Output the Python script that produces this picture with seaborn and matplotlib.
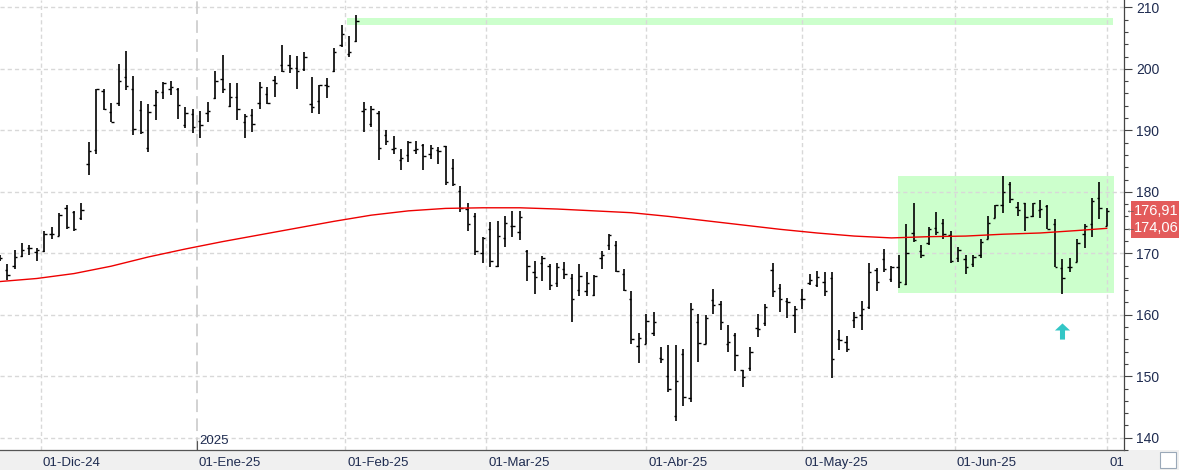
import numpy as np
import pandas as pd
import matplotlib
matplotlib.use("Agg")
import matplotlib.pyplot as plt
import seaborn as sns
from matplotlib.patches import Rectangle
from matplotlib.path import Path
from matplotlib.transforms import Bbox, TransformedBbox

# trading days (US calendar) shown on the chart
holidays = ["2024-11-28", "2024-12-25", "2025-01-01", "2025-01-09", "2025-01-20",
            "2025-02-17", "2025-04-18", "2025-05-26", "2025-06-19"]
days = pd.bdate_range("2024-11-21", "2025-07-01")
days = days[~days.isin(pd.to_datetime(holidays))]

opens = [169.0, 167.3, 168.0, 169.5, 170.8, 170.2, 170.4, 173.2, 172.8, 177.4,
         176.7, 175.8, 184.5, 186.8, 196.4, 192.9, 194.4, 198.6, 196.8, 193.3,
         187.2, 194.1, 196.2, 196.8, 196.7, 190.8, 192.6, 191.5, 192.8, 195.3,
         198.3, 193.9, 195.4, 191.4, 192.5, 194.5, 195.9, 198.2, 200.7, 200.6,
         200.1, 200.0, 194.3, 194.8, 197.3, 199.7, 203.9, 202.4, 204.6, 193.2,
         191.1, 192.8, 189.3, 187.0, 185.1, 186.0, 186.8, 187.6, 186.2, 186.8,
         187.4, 183.9, 180.1, 177.2, 176.0, 170.1, 173.9, 168.0, 172.5, 174.4,
         173.5, 170.4, 166.9, 168.5, 168.0, 165.2, 167.4, 166.0, 164.0, 163.8,
         163.2, 169.3, 171.3, 171.4, 166.7, 162.5, 154.9, 155.3, 157.0, 153.0,
         150.1, 143.5, 153.6, 146.5, 158.9, 155.3, 162.4, 161.7, 155.3, 156.7,
         151.0, 151.3, 157.9, 158.6, 167.2, 164.3, 162.2, 159.9, 162.6, 165.1,
         164.8, 165.4, 166.0, 156.0, 155.5, 159.2, 159.9, 161.3, 167.2, 169.0,
         165.8, 167.8, 165.0, 173.3, 170.3, 171.6, 174.1, 175.0, 173.0, 169.2,
         169.0, 168.3, 169.8, 172.4, 175.8, 177.9, 181.3, 177.5, 178.2, 176.0,
         177.1, 177.7, 174.8, 167.6, 167.8, 168.6, 173.1, 174.7, 179.0, 174.5]
highs = [169.8, 168.3, 170.5, 171.6, 171.3, 170.9, 173.7, 174.3, 176.5, 177.8,
         176.8, 178.1, 188.1, 196.8, 196.7, 194.4, 200.8, 202.9, 198.8, 194.7,
         194.3, 196.6, 197.8, 198.1, 196.9, 193.8, 193.4, 193.1, 194.6, 199.7,
         202.3, 197.7, 197.7, 192.6, 193.4, 197.9, 197.0, 198.9, 203.9, 202.3,
         202.1, 202.7, 198.7, 197.4, 198.5, 203.4, 207.2, 205.4, 208.8, 194.6,
         194.0, 193.2, 190.1, 189.0, 186.9, 188.2, 188.2, 187.8, 187.6, 187.3,
         187.5, 185.3, 180.9, 178.2, 176.6, 172.6, 175.1, 175.3, 176.0, 176.8,
         176.9, 170.5, 168.7, 169.6, 168.2, 168.4, 168.6, 166.6, 168.2, 167.0,
         166.5, 170.3, 173.1, 172.0, 167.5, 163.9, 157.1, 160.1, 160.4, 154.8,
         155.0, 155.1, 154.5, 161.9, 160.1, 159.9, 164.2, 162.3, 158.3, 157.1,
         151.0, 154.7, 160.1, 161.7, 168.4, 165.0, 162.7, 161.5, 164.2, 166.6,
         167.1, 166.9, 167.0, 157.5, 156.5, 160.5, 162.2, 168.4, 167.6, 170.7,
         168.0, 169.8, 174.7, 178.2, 171.3, 174.3, 176.7, 175.5, 173.6, 171.1,
         169.8, 169.7, 172.4, 176.0, 177.9, 182.5, 181.6, 178.3, 178.2, 178.2,
         178.7, 177.9, 175.5, 169.1, 169.3, 172.4, 174.7, 179.0, 181.6, 177.3]
lows = [168.8, 165.7, 167.5, 169.4, 169.8, 168.7, 170.2, 172.4, 172.8, 174.0,
        173.6, 175.4, 182.7, 186.2, 193.3, 191.3, 194.0, 196.6, 189.3, 189.4,
        186.4, 191.7, 195.1, 195.8, 191.9, 190.3, 189.6, 188.8, 191.3, 195.1,
        196.1, 193.8, 191.6, 188.8, 189.8, 193.5, 194.3, 195.4, 199.5, 199.3,
        196.8, 199.7, 192.8, 192.6, 195.2, 199.5, 203.6, 201.9, 204.3, 189.8,
        190.5, 185.1, 187.6, 186.1, 183.6, 184.8, 186.1, 183.5, 185.4, 184.6,
        181.1, 180.9, 176.7, 173.6, 169.8, 168.5, 167.7, 167.7, 171.0, 172.6,
        172.2, 165.5, 163.3, 165.5, 164.1, 164.5, 165.8, 158.9, 163.1, 163.1,
        163.1, 167.4, 170.5, 166.9, 163.9, 155.2, 152.2, 155.3, 156.6, 152.2,
        147.5, 142.7, 145.2, 145.8, 152.3, 155.3, 160.1, 157.6, 153.9, 150.9,
        148.3, 150.9, 156.3, 158.1, 162.9, 160.4, 159.4, 157.1, 161.0, 164.9,
        164.5, 163.1, 149.7, 154.2, 153.9, 157.9, 157.6, 161.0, 163.9, 167.0,
        165.4, 164.3, 164.9, 171.8, 169.3, 171.3, 172.9, 172.4, 168.4, 168.6,
        166.7, 167.8, 169.3, 172.3, 175.8, 176.6, 178.1, 176.0, 173.6, 175.9,
        175.8, 173.9, 167.8, 163.4, 167.0, 168.6, 170.8, 172.6, 175.6, 174.5]
closes = [169.3, 166.5, 169.4, 170.6, 170.9, 170.6, 173.1, 173.1, 176.3, 174.3,
          173.9, 177.0, 186.6, 196.7, 193.5, 191.4, 198.1, 197.2, 190.2, 189.7,
          193.0, 196.3, 197.7, 197.1, 194.1, 192.8, 190.6, 190.8, 193.2, 198.1,
          196.7, 195.4, 193.4, 192.4, 191.0, 197.0, 194.5, 197.7, 199.6, 200.1,
          199.7, 201.9, 193.8, 197.3, 197.2, 202.7, 205.6, 202.7, 207.8, 193.4,
          193.5, 187.1, 188.2, 187.1, 185.5, 188.1, 187.0, 185.9, 187.1, 186.6,
          181.6, 181.2, 177.4, 174.8, 170.3, 172.5, 168.7, 172.8, 175.0, 174.4,
          175.9, 167.9, 166.1, 169.2, 164.8, 167.7, 166.7, 162.6, 166.3, 165.1,
          166.3, 169.8, 172.9, 167.1, 164.0, 156.0, 156.2, 159.0, 158.8, 152.8,
          148.0, 149.2, 146.6, 160.9, 155.4, 159.5, 161.6, 158.8, 155.6, 153.5,
          149.8, 153.9, 157.7, 161.3, 163.9, 162.5, 162.0, 160.9, 162.6, 165.6,
          166.2, 163.9, 152.8, 155.9, 154.4, 159.6, 160.9, 166.9, 165.4, 167.4,
          167.8, 165.4, 170.1, 172.1, 169.7, 174.0, 173.5, 173.1, 168.8, 170.5,
          167.8, 169.4, 171.8, 175.0, 177.8, 180.0, 178.8, 177.1, 175.9, 178.1,
          177.2, 174.0, 167.8, 165.9, 167.8, 171.6, 174.4, 178.5, 177.4, 176.91]

# moving average (bar index -> value)
ma_idx = [0, 5, 10, 15, 20, 25, 30, 35, 40, 45, 50, 55, 60, 65, 70, 75, 80, 85,
          90, 95, 100, 105, 110, 115, 120, 125, 130, 135, 140, 145, 149]
ma_vals = [165.4, 165.9, 166.7, 167.9, 169.4, 170.7, 171.9, 173.0, 174.1, 175.2,
           176.2, 176.9, 177.3, 177.4, 177.4, 177.2, 176.9, 176.6, 176.0, 175.3,
           174.6, 173.9, 173.3, 172.8, 172.5, 172.7, 172.8, 173.1, 173.3, 173.7, 174.06]

month_starts = ["2024-12-01", "2025-01-01", "2025-02-01", "2025-03-01",
                "2025-04-01", "2025-05-01", "2025-06-01", "2025-07-01"]
month_labels = ["01-Dic-24", "01-Ene-25", "01-Feb-25", "01-Mar-25",
                "01-Abr-25", "01-May-25", "01-Jun-25", "01-Jul-25"]

resist_low, resist_high, resist_start = 207.2, 208.2, "2025-02-03"
box_low, box_high, box_start = 163.6, 182.6, "2025-05-20"
signal_day, signal_price = "2025-06-23", 157.3
last_labels = [(176.91, "176,91"), (174.06, "174,06")]

sns.set_theme(style="white")
plt.rcParams["font.family"] = ["Liberation Sans", "DejaVu Sans"]

df = pd.DataFrame({"date": days, "o": opens, "h": highs, "l": lows, "c": closes})
df["i"] = np.arange(len(df))
n = len(df)

def pos_of(d):
    d = pd.Timestamp(d)
    k = days.searchsorted(d)
    return float(k) if (k < n and days[k] == d) else k - 0.5

W, H = 1179, 474
fig = plt.figure(figsize=(W / 100, H / 100), dpi=100)
fig.patches.append(Rectangle((0, 4 / H), 1, 20 / H, transform=fig.transFigure,
                             fc="#f0f0f0", ec="none", zorder=-1))
ax = fig.add_axes([0, 24 / H, 1124 / W, 450 / H])
ax.set_facecolor("white")

x_end = n + 0.05
ax.add_patch(Rectangle((pos_of(resist_start) - 0.2, resist_low),
                       x_end - pos_of(resist_start), resist_high - resist_low,
                       fc="#ccffcc", ec="none", zorder=0.5))
ax.add_patch(Rectangle((pos_of(box_start) - 0.1, box_low),
                       x_end - pos_of(box_start), box_high - box_low,
                       fc="#ccffcc", ec="none", zorder=0.5))

# grid
for v in range(140, 211, 10):
    ax.axhline(v, color="#d8d8d8", lw=1.0, ls=(0, (3, 2.2)), zorder=1)
tick_pos = [pos_of(d) for d in month_starts]
for p, lbl in zip(tick_pos, month_labels):
    if lbl == "01-Ene-25":
        ax.axvline(p, color="#cfcfcf", lw=1.3, ls=(0, (7, 3.5)), zorder=1)
    else:
        ax.axvline(p, color="#d8d8d8", lw=1.0, ls=(0, (3, 2.2)), zorder=1)

# OHLC bars
ax.vlines(df["i"], df["l"], df["h"], color="black", lw=1.2, zorder=3)
ax.hlines(df["o"], df["i"] - 0.32, df["i"], color="black", lw=1.0, zorder=3)
ax.hlines(df["c"], df["i"], df["i"] + 0.32, color="black", lw=1.0, zorder=3)

sns.lineplot(x=ma_idx, y=ma_vals, color="#ee0000", lw=1.0, ax=ax, zorder=4)

# buy signal arrow (custom marker)
arrow = Path([(-7.5, 1), (0, 8), (7.5, 1), (2.5, 1), (2.5, -8), (-2.5, -8),
              (-2.5, 1), (-7.5, 1)], closed=True)
ax.scatter([pos_of(signal_day)], [signal_price], marker=arrow, s=135,
           color="#33c6c6", linewidths=0, zorder=5)

ax.set_xlim(0.04, 151.3)
ax.set_ylim(138.2, 211.2)

for s in ["left", "top"]:
    ax.spines[s].set_visible(False)
ax.spines["right"].set_color("#444444")
ax.spines["bottom"].set_color("#555555")
ax.spines["right"].set_linewidth(0.9)
ax.spines["bottom"].set_linewidth(0.9)

ax.yaxis.tick_right()
ax.set_yticks(range(140, 211, 10))
ax.set_yticks(np.arange(138, 212, 2), minor=True)
ax.tick_params(axis="y", which="major", length=5.8, width=0.8, color="#444444",
               pad=3, labelsize=10, labelcolor="#1e2b50")
ax.tick_params(axis="y", which="minor", length=3, width=0.8, color="#444444")
ax.set_xticks(tick_pos)
ax.set_xticklabels([])
ax.tick_params(axis="x", which="major", direction="out", length=6, width=0.8,
               color="#555555")
ax.set_xlabel("")
ax.set_ylabel("")

clip = TransformedBbox(Bbox([[0, 0], [1124 / W, 1]]), fig.transFigure)
for p, lbl in zip(tick_pos, month_labels):
    t = ax.annotate(lbl, xy=(p, 0), xycoords=("data", "axes fraction"),
                    xytext=(1.6, -5.2), textcoords="offset points",
                    ha="left", va="top", fontsize=9.5, color="#1e2b50",
                    annotation_clip=False)
    t.set_clip_on(True)
    t.set_clip_box(clip)
    if lbl == "01-Ene-25":
        ax.plot([p, p], [0, 9 / 450], transform=ax.get_xaxis_transform(),
                color="#555555", lw=0.8, clip_on=False, zorder=5)
        ax.annotate("2025", xy=(p, 0), xycoords=("data", "axes fraction"),
                    xytext=(1.6, 2.0), textcoords="offset points",
                    ha="left", va="bottom", fontsize=9.5, color="#1e2b50")

# last value tags
for val, txt in last_labels:
    ax.text(1.0085, val, txt, transform=ax.get_yaxis_transform(), ha="left",
            va="center", fontsize=10.5, color="white", clip_on=False,
            bbox=dict(boxstyle="square,pad=0.18", fc="#e35b5b", ec="none"))
    ax.text(1.0005, val, "\u2190", transform=ax.get_yaxis_transform(), ha="left",
            va="center", fontsize=7, color="#555555", clip_on=False)

# small corner button
fig.patches.append(Rectangle((1160 / W, 6 / H), 16 / W, 16 / H, transform=fig.transFigure,
                             fc="white", ec="#9aa8b8", lw=0.8, zorder=1))

fig.savefig("out.png", dpi=100)
